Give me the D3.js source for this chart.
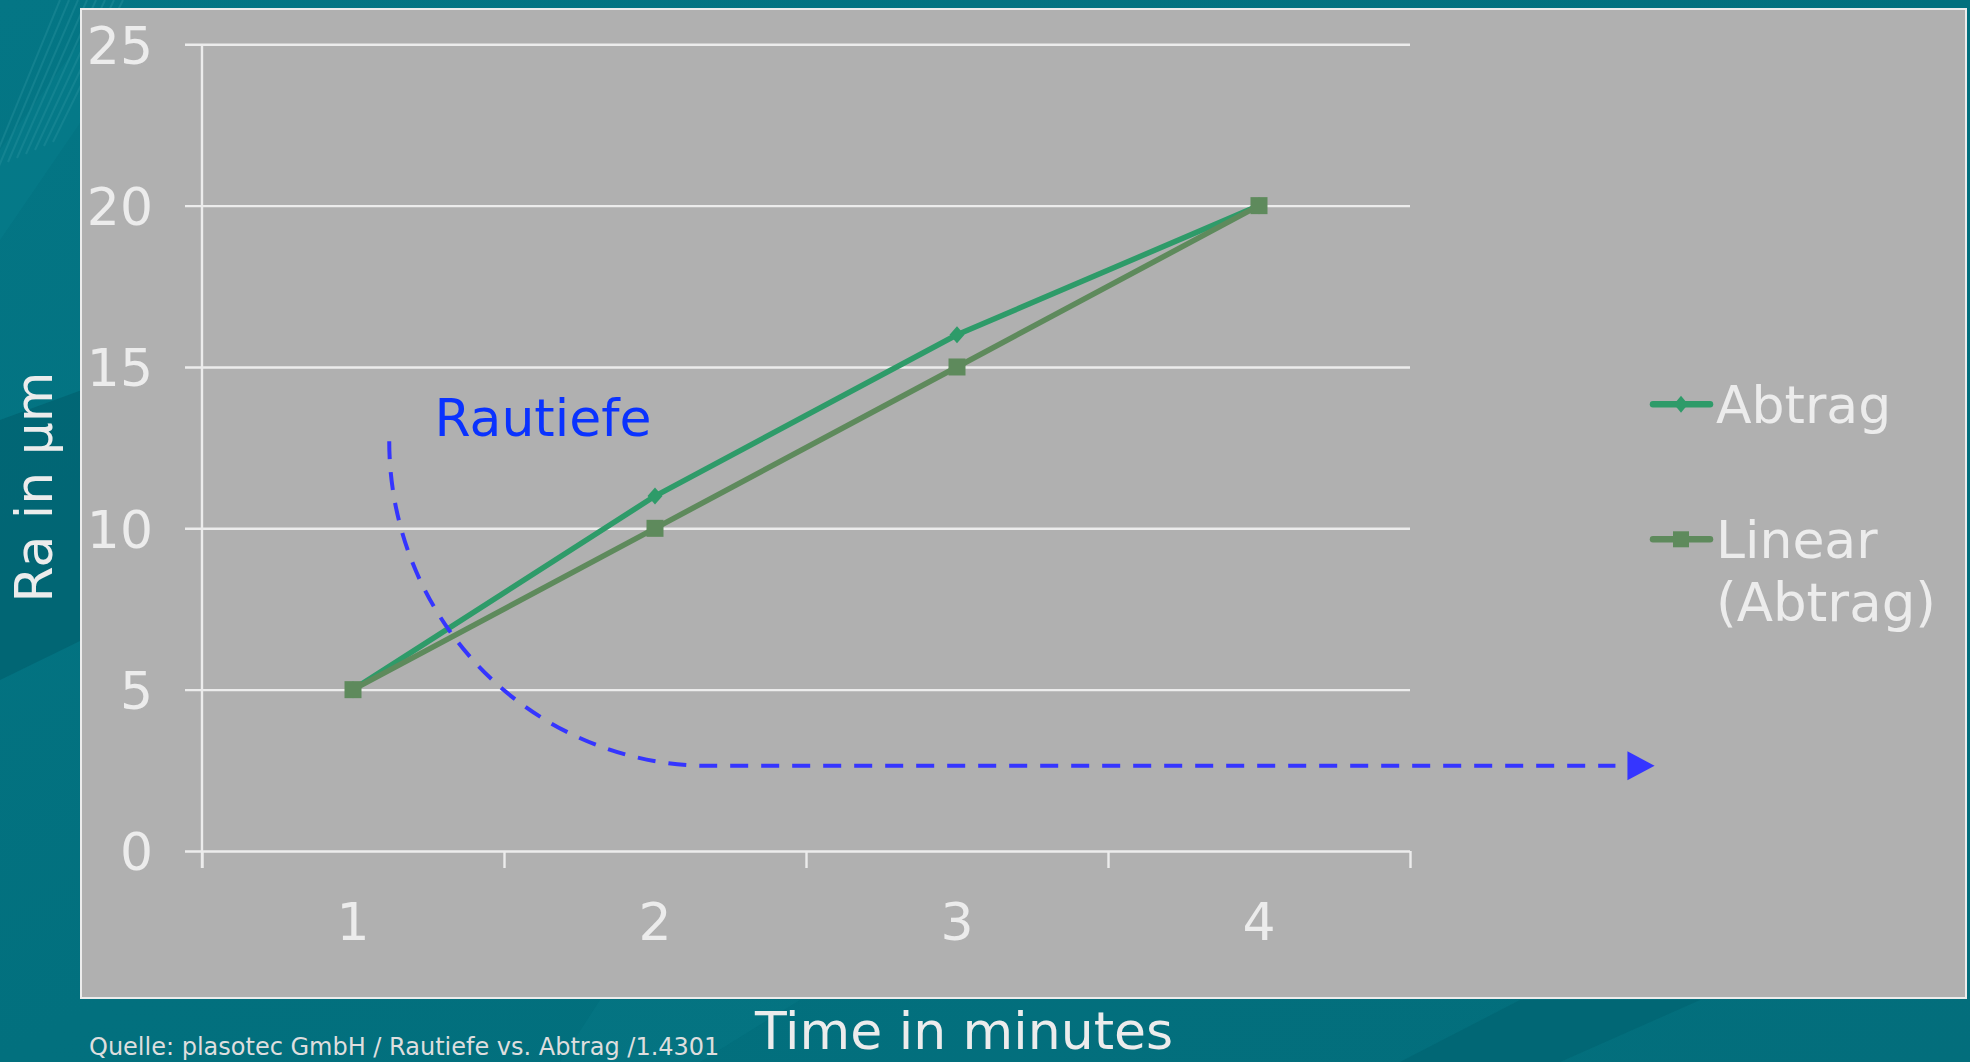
<!DOCTYPE html>
<html>
<head>
<meta charset="utf-8">
<script src="https://cdn.jsdelivr.net/npm/d3@7"></script>
<style>
  html, body { margin: 0; padding: 0; background: #03717f; }
  svg { display: block; font-family: "DejaVu Sans", Verdana, sans-serif; }
</style>
</head>
<body>
<svg id="chart" width="1970" height="1062"></svg>
<script>
// Measured data: surface roughness vs. processing time
const categories = [1, 2, 3, 4];
const abtrag = [5, 11, 16, 20];
const linearAbtrag = [5, 10, 15, 20];
const yTicks = [0, 5, 10, 15, 20, 25];
const seriesLabels = ["Abtrag", "Linear (Abtrag)"];

// "Rautiefe" annotation, in axis units (x: category position, y: µm)
const noteLabel = "Rautiefe";
const noteLabelPos = [1.27, 12.86];
const noteStart = [1.12, 12.7];
const noteCorner = [2.18, 2.64];
const noteArrow = [5.22, 5.31, 0.45]; // base x, tip x, half height

const W = 1970, H = 1062;
const svg = d3.select("#chart");

// ---- slide background ----
const defs = svg.append("defs");
const bg = defs.append("linearGradient").attr("id", "bg").attr("x1", 0).attr("y1", 0).attr("x2", 1).attr("y2", 1);
bg.append("stop").attr("offset", 0).attr("stop-color", "#047685");
bg.append("stop").attr("offset", 0.5).attr("stop-color", "#02707e");
bg.append("stop").attr("offset", 1).attr("stop-color", "#036e7c");
svg.append("rect").attr("width", W).attr("height", H).attr("fill", "url(#bg)");

const deco = svg.append("g");
deco.append("path").attr("d", "M0,420 L82,390 L82,640 L0,680 Z").attr("fill", "#005a68").attr("opacity", 0.5);
deco.append("path").attr("d", "M0,150 L82,40 L82,120 L0,240 Z").attr("fill", "#0a8492").attr("opacity", 0.3);
for (let i = 0; i < 8; i++) {
  deco.append("line")
    .attr("x1", -10 + i * 9).attr("y1", 170 - i * 4)
    .attr("x2", 60 + i * 9).attr("y2", 0)
    .attr("stroke", "#2a93a0").attr("stroke-width", 2).attr("opacity", 0.4);
}
deco.append("path").attr("d", "M1400,1062 L1520,1000 L1700,1000 L1560,1062 Z").attr("fill", "#005f6d").attr("opacity", 0.5);
deco.append("path").attr("d", "M600,1000 L800,1000 L700,1062 L560,1062 Z").attr("fill", "#0a7d8a").attr("opacity", 0.3);

// ---- chart panel ----
svg.append("rect")
  .attr("x", 81).attr("y", 9).attr("width", 1885).attr("height", 989)
  .attr("fill", "#b0b0b0").attr("stroke", "#ececec").attr("stroke-width", 2);

// ---- scales ----
const plot = { left: 202, right: 1410, top: 44.3, bottom: 851 };
const x = d3.scaleBand().domain(categories).range([plot.left, plot.right]).padding(0);
const xPos = d3.scaleLinear().domain([0.5, 4.5]).range([plot.left, plot.right]);
const y = d3.scaleLinear().domain([0, 25]).range([plot.bottom, plot.top]);
const cx = c => x(c) + x.bandwidth() / 2;

const gridColor = "#ececec";
const textColor = "#ececec";

// y axis with gridlines
const yAxis = svg.append("g")
  .attr("transform", `translate(${plot.left},0)`)
  .call(d3.axisLeft(y).tickValues(yTicks).tickSize(-(plot.right - plot.left)).tickPadding(0).tickFormat(d3.format("d")));
yAxis.select(".domain").remove();
yAxis.selectAll(".tick line").attr("stroke", gridColor).attr("stroke-width", 2.4).attr("x1", -17);
yAxis.selectAll(".tick text")
  .attr("x", -49).attr("dy", "0.365em")
  .attr("fill", textColor).attr("font-size", 52).attr("font-family", "DejaVu Sans, Verdana, sans-serif");

// vertical axis line
svg.append("line")
  .attr("x1", plot.left).attr("x2", plot.left)
  .attr("y1", plot.top).attr("y2", plot.bottom + 17)
  .attr("stroke", gridColor).attr("stroke-width", 2.4);

// x axis: ticks at category boundaries, labels at centers
const xTickAxis = svg.append("g")
  .attr("transform", `translate(0,${plot.bottom})`)
  .call(d3.axisBottom(xPos).tickValues(d3.range(0.5, 4.51, 1)).tickSize(17).tickFormat(""));
xTickAxis.select(".domain").remove();
xTickAxis.selectAll(".tick line").attr("stroke", gridColor).attr("stroke-width", 2.4);

const xLabelAxis = svg.append("g")
  .attr("transform", `translate(0,${plot.bottom})`)
  .call(d3.axisBottom(x).tickSize(0).tickPadding(0));
xLabelAxis.select(".domain").remove();
xLabelAxis.selectAll(".tick text")
  .attr("y", 89).attr("dy", 0)
  .attr("fill", textColor).attr("font-size", 52).attr("font-family", "DejaVu Sans, Verdana, sans-serif");

// ---- series ----
const colAbtrag = "#2e9b69";
const colLinear = "#5e8a5c";
const line = d3.line().x((d, i) => cx(categories[i])).y(d => y(d));

svg.append("path").datum(abtrag)
  .attr("d", line).attr("fill", "none")
  .attr("stroke", colAbtrag).attr("stroke-width", 5.5).attr("stroke-linejoin", "round");
svg.append("g").selectAll("path").data(abtrag).join("path")
  .attr("transform", (d, i) => `translate(${cx(categories[i])},${y(d)})`)
  .attr("d", "M0,-8.5 L7.5,0 L0,8.5 L-7.5,0 Z").attr("fill", colAbtrag);

svg.append("path").datum(linearAbtrag)
  .attr("d", line).attr("fill", "none")
  .attr("stroke", colLinear).attr("stroke-width", 5.5).attr("stroke-linejoin", "round");
svg.append("g").selectAll("rect").data(linearAbtrag).join("rect")
  .attr("x", (d, i) => cx(categories[i]) - 8.5).attr("y", d => y(d) - 8.5)
  .attr("width", 17).attr("height", 17).attr("fill", colLinear);

// ---- "Rautiefe" annotation ----
const blue = "#3535ff";
const sx = xPos(noteStart[0]), sy = y(noteStart[1]);
const kx = xPos(noteCorner[0]), ky = y(noteCorner[1]);
const rx = kx - sx, ry = ky - sy;
svg.append("path")
  .attr("d", `M${sx},${sy} A${rx},${ry} 0 0 0 ${kx},${ky} H${xPos(noteArrow[0]) - 12}`)
  .attr("fill", "none").attr("stroke", blue).attr("stroke-width", 4)
  .attr("stroke-dasharray", "18 13");
svg.append("path")
  .attr("d", `M${xPos(noteArrow[0])},${y(noteCorner[1] + noteArrow[2])} L${xPos(noteArrow[1])},${ky} L${xPos(noteArrow[0])},${y(noteCorner[1] - noteArrow[2])} Z`)
  .attr("fill", blue);
svg.append("text")
  .attr("x", xPos(noteLabelPos[0])).attr("y", y(noteLabelPos[1]))
  .attr("fill", "#0a32ff").attr("font-size", 52)
  .text(noteLabel);

// ---- legend ----
const legend = svg.append("g");
const legendRows = [
  { lines: [seriesLabels[0]], y: 404.3, color: colAbtrag, marker: "diamond" },
  { lines: ["Linear", "(Abtrag)"], y: 539.3, color: colLinear, marker: "square" }
];
legendRows.forEach(r => {
  const g = legend.append("g").attr("transform", `translate(0,${r.y})`);
  g.append("line").attr("x1", 1653).attr("x2", 1710).attr("y1", 0).attr("y2", 0)
    .attr("stroke", r.color).attr("stroke-width", 6.5).attr("stroke-linecap", "round");
  if (r.marker === "diamond") {
    g.append("path").attr("transform", "translate(1681,0)").attr("d", "M0,-8.5 L7,0 L0,8.5 L-7,0 Z").attr("fill", r.color);
  } else {
    g.append("rect").attr("x", 1673).attr("y", -8).attr("width", 16).attr("height", 16).attr("fill", r.color);
  }
  r.lines.forEach((t, i) => {
    g.append("text").attr("x", 1716).attr("y", 18.5 + i * 63.7)
      .attr("fill", textColor).attr("font-size", i === 0 ? 52 : 53).text(t);
  });
});

// ---- axis titles and source note ----
svg.append("text")
  .attr("transform", "translate(52,487) rotate(-90)")
  .attr("text-anchor", "middle").attr("fill", textColor).attr("font-size", 52)
  .text("Ra in µm");
svg.append("text")
  .attr("x", 964).attr("y", 1049).attr("text-anchor", "middle")
  .attr("fill", textColor).attr("font-size", 52)
  .text("Time in minutes");
svg.append("text")
  .attr("x", 89).attr("y", 1055)
  .attr("fill", "#dedede").attr("font-size", 24)
  .text("Quelle: plasotec GmbH / Rautiefe vs. Abtrag /1.4301");
</script>
</body>
</html>
